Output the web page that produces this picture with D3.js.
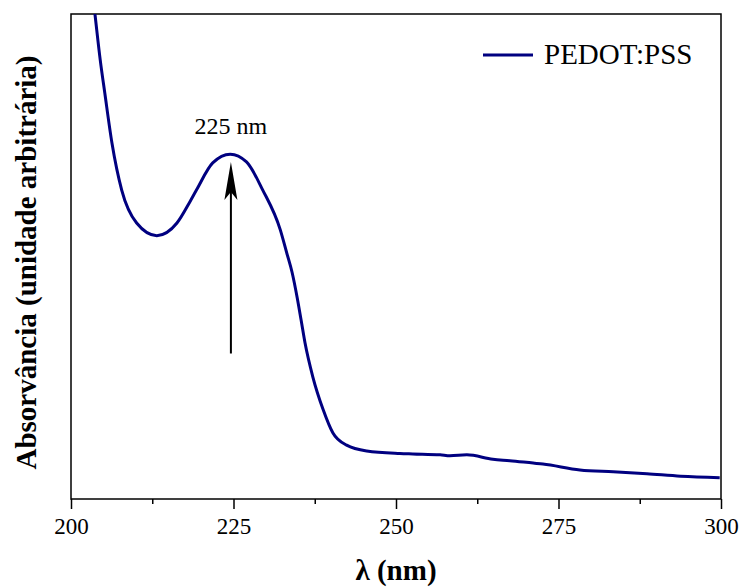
<!DOCTYPE html>
<html>
<head>
<meta charset="utf-8">
<script src="https://cdn.jsdelivr.net/npm/d3@7"></script>
<style>
  body { margin: 0; background: #fff; }
  text { font-family: "Liberation Serif", "Times New Roman", serif; fill: #000; }
</style>
</head>
<body>
<div id="chart"></div>
<script>
// Data
const wavelength = [203.4, 203.7, 204.5, 205.2, 206.3, 207.8, 210.1, 213.2, 216.3, 218.3, 219.3, 221.8, 224.5,
  227.0, 229.5, 232.2, 233.2, 234.0, 234.8, 235.4, 236.0, 237.2, 238.8, 240.3, 242.4, 245.5, 250.6, 252.6,
  256.8, 258.3, 260.9, 264.9, 267.5, 271.1, 272.6, 278.3, 283.4, 288.6, 293.8, 299.8];
const absorbance = [1.033, 0.998, 0.905, 0.837, 0.734, 0.637, 0.569, 0.543, 0.569, 0.613, 0.637, 0.693, 0.711,
  0.695, 0.637, 0.555, 0.507, 0.468, 0.415, 0.369, 0.322, 0.252, 0.184, 0.136, 0.111, 0.099, 0.094, 0.093,
  0.091, 0.089, 0.091, 0.082, 0.079, 0.074, 0.072, 0.060, 0.056, 0.052, 0.047, 0.044];

const xTicks = [200, 225, 250, 275, 300];
const xMinorTicks = [212.5, 237.5, 262.5, 287.5];
const seriesName = "PEDOT:PSS";
const peakLabel = "225 nm";
const peakArrow = { x: 224.6, from: 0.30, to: 0.695 };

// Dimensions
const WIDTH = 742;
const HEIGHT = 588;
const margin = { top: 14, right: 21, bottom: 89, left: 71 };
const innerW = WIDTH - margin.left - margin.right;
const innerH = HEIGHT - margin.top - margin.bottom;

const svg = d3.select("#chart")
  .append("svg")
  .attr("width", WIDTH)
  .attr("height", HEIGHT);

const g = svg.append("g")
  .attr("transform", `translate(${margin.left},${margin.top})`);

const x = d3.scaleLinear().domain([200, 300]).range([0, innerW]);
const y = d3.scaleLinear().domain([0, 1]).range([innerH, 0]);

// Clip for the curve
svg.append("defs").append("clipPath")
  .attr("id", "clip")
  .append("rect")
  .attr("width", innerW)
  .attr("height", innerH);

// Minor ticks
g.append("g")
  .attr("transform", `translate(0,${innerH})`)
  .call(d3.axisBottom(x).tickValues(xMinorTicks).tickSize(5).tickFormat(""))
  .call((s) => s.select(".domain").remove())
  .call((s) => s.selectAll("line").attr("stroke-width", 1.5));

// Major ticks + labels
g.append("g")
  .attr("transform", `translate(0,${innerH})`)
  .call(d3.axisBottom(x).tickValues(xTicks).tickSize(10).tickPadding(9).tickFormat(d3.format("d")))
  .call((s) => s.select(".domain").remove())
  .call((s) => s.selectAll("line").attr("stroke-width", 1.5))
  .call((s) => s.selectAll("text")
    .style("font-family", "'Liberation Serif', serif")
    .style("font-size", "23px"));

// Frame
g.append("rect")
  .attr("width", innerW)
  .attr("height", innerH)
  .attr("fill", "none")
  .attr("stroke", "#000")
  .attr("stroke-width", 1.5);

// Spectrum line
const line = d3.line()
  .x((d, i) => x(wavelength[i]))
  .y((d) => y(d))
  .curve(d3.curveMonotoneX);

g.append("path")
  .datum(absorbance)
  .attr("clip-path", "url(#clip)")
  .attr("fill", "none")
  .attr("stroke", "#000080")
  .attr("stroke-width", 3)
  .attr("d", line);

// Peak arrow
const ax = x(peakArrow.x);
const tipY = y(peakArrow.to);
g.append("line")
  .attr("x1", ax).attr("x2", ax)
  .attr("y1", y(peakArrow.from)).attr("y2", tipY + 20)
  .attr("stroke", "#000")
  .attr("stroke-width", 2);

g.append("path")
  .attr("d", `M${ax},${tipY} L${ax + 6.5},${tipY + 38} L${ax},${tipY + 30} L${ax - 6.5},${tipY + 38} Z`)
  .attr("fill", "#000");

g.append("text")
  .attr("x", ax)
  .attr("y", 134 - margin.top)
  .attr("text-anchor", "middle")
  .style("font-size", "24px")
  .text(peakLabel);

// Legend
const legend = g.append("g").attr("transform", `translate(${483 - margin.left},${55 - margin.top})`);
legend.append("line")
  .attr("x1", 0).attr("x2", 50)
  .attr("stroke", "#000080")
  .attr("stroke-width", 3);
legend.append("text")
  .attr("x", 61)
  .attr("y", 9)
  .style("font-size", "29px")
  .text(seriesName);

// Axis titles
svg.append("text")
  .attr("x", margin.left + innerW / 2)
  .attr("y", 580)
  .attr("text-anchor", "middle")
  .style("font-size", "29px")
  .style("font-weight", "bold")
  .text("λ (nm)");

svg.append("text")
  .attr("transform", `translate(36,${margin.top + innerH / 2 + 6}) rotate(-90)`)
  .attr("text-anchor", "middle")
  .style("font-size", "29px")
  .style("font-weight", "bold")
  .text("Absorvância (unidade arbitrária)");
</script>
</body>
</html>
